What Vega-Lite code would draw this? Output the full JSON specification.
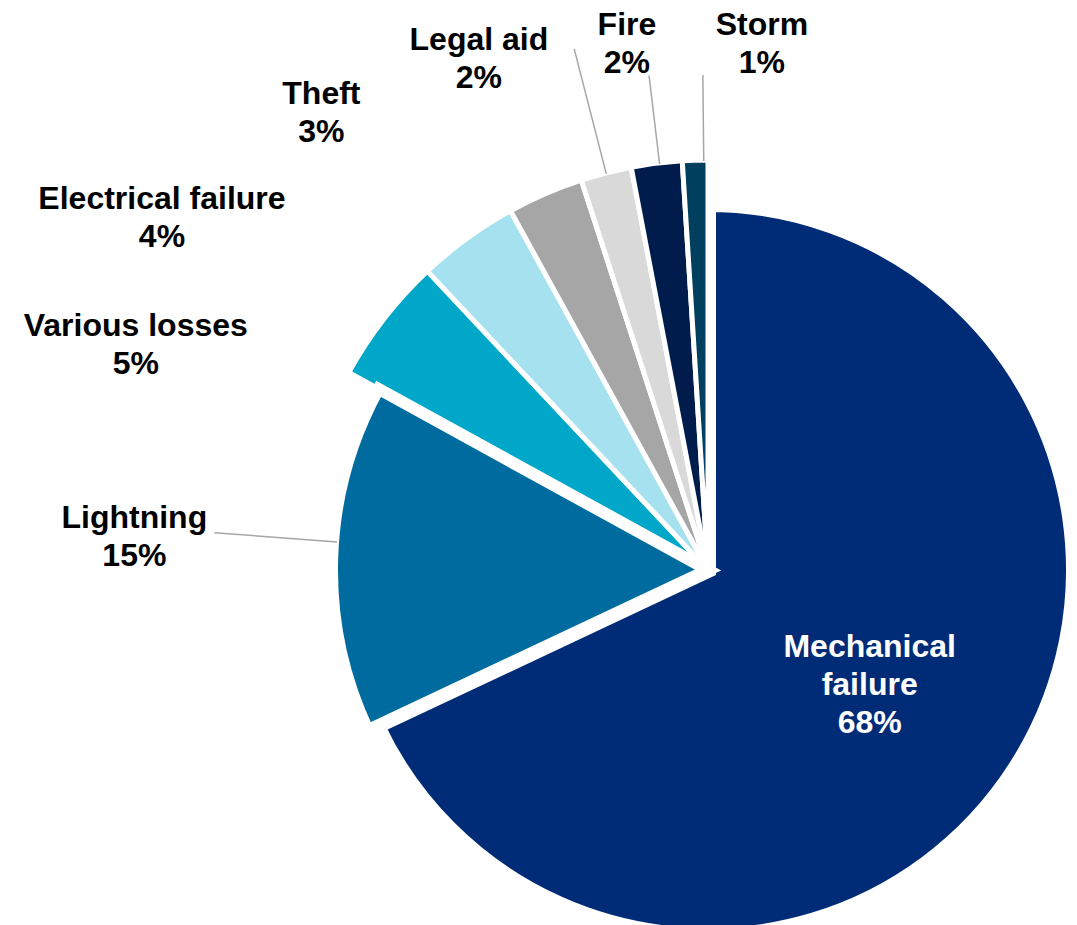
{
  "$schema": "https://vega.github.io/schema/vega-lite/v6.json",
  "width": 738,
  "height": 710,
  "autosize": {"type": "none"},
  "padding": {"left": 339, "top": 215, "right": 0, "bottom": 0},
  "background": "white",
  "config": {"view": {"stroke": null}, "text": {"font": "Liberation Sans"}},
  "data": {
    "values": [
      {"cause": "Mechanical failure", "share": 68},
      {"cause": "Lightning", "share": 15},
      {"cause": "Various losses", "share": 5},
      {"cause": "Electrical failure", "share": 4},
      {"cause": "Theft", "share": 3},
      {"cause": "Legal aid", "share": 2},
      {"cause": "Fire", "share": 2},
      {"cause": "Storm", "share": 1}
    ]
  },
  "transform": [
    {"stack": "share", "groupby": [], "as": ["t0", "t1"]},
    {"calculate": "(datum.t0 + datum.t1) / 2", "as": "mid"},
    {"calculate": "[datum.cause, datum.share + '%']", "as": "lines"},
    {"calculate": "split(datum.cause + ' ' + datum.share + '%', ' ')", "as": "words"}
  ],
  "layer": [
    {
      "transform": [{"filter": "datum.cause === 'Mechanical failure'"}],
      "mark": {"type": "arc", "radius": 366, "stroke": "white", "strokeWidth": 16},
      "encoding": {
        "theta": {"field": "t0", "type": "quantitative", "stack": null, "scale": {"domain": [0, 100]}},
        "theta2": {"field": "t1"},
        "color": {
          "field": "cause", "type": "nominal", "legend": null,
          "scale": {
            "domain": ["Mechanical failure", "Lightning", "Various losses", "Electrical failure", "Theft", "Legal aid", "Fire", "Storm"],
            "range": ["#002C77", "#006B9E", "#00A7C8", "#A6E1F0", "#A6A6A6", "#D9D9D9", "#001C4C", "#00405E"]
          }
        }
      }
    },
    {
      "transform": [{"filter": "datum.share < 10"}],
      "mark": {"type": "arc", "radius": 410, "stroke": "white", "strokeWidth": 5},
      "encoding": {
        "theta": {"field": "t0", "type": "quantitative", "stack": null},
        "theta2": {"field": "t1"},
        "color": {"field": "cause", "type": "nominal", "legend": null}
      }
    },
    {
      "transform": [{"filter": "datum.cause === 'Lightning'"}],
      "mark": {"type": "arc", "radius": 376, "stroke": "white", "strokeWidth": 12},
      "encoding": {
        "theta": {"field": "t0", "type": "quantitative", "stack": null},
        "theta2": {"field": "t1"},
        "color": {"field": "cause", "type": "nominal", "legend": null}
      }
    },
    {
      "transform": [{"filter": "datum.cause === 'Storm'"}],
      "mark": {"type": "arc", "filled": false, "stroke": "#A6A6A6", "strokeWidth": 1.5, "radius": 495, "radius2": 409, "thetaOffset": 0.021, "theta2Offset": 0.021},
      "encoding": {
        "theta": {"field": "mid", "type": "quantitative", "stack": null},
        "theta2": {"field": "mid"}
      }
    },
    {
      "transform": [{"filter": "datum.cause === 'Fire'"}],
      "mark": {"type": "arc", "filled": false, "stroke": "#A6A6A6", "strokeWidth": 1.5, "radius": 498, "radius2": 409, "thetaOffset": 0.007, "theta2Offset": 0.007},
      "encoding": {
        "theta": {"field": "mid", "type": "quantitative", "stack": null},
        "theta2": {"field": "mid"}
      }
    },
    {
      "transform": [{"filter": "datum.cause === 'Legal aid'"}],
      "mark": {"type": "arc", "filled": false, "stroke": "#A6A6A6", "strokeWidth": 1.5, "radius": 538, "radius2": 409, "thetaOffset": 0, "theta2Offset": 0},
      "encoding": {
        "theta": {"field": "mid", "type": "quantitative", "stack": null},
        "theta2": {"field": "mid"}
      }
    },
    {
      "transform": [{"filter": "datum.cause === 'Lightning'"}],
      "mark": {"type": "arc", "filled": false, "stroke": "#A6A6A6", "strokeWidth": 1.5, "radius": 495, "radius2": 372, "thetaOffset": 0.044, "theta2Offset": 0.044},
      "encoding": {
        "theta": {"field": "mid", "type": "quantitative", "stack": null},
        "theta2": {"field": "mid"}
      }
    },
    {
      "transform": [{"filter": "datum.cause === 'Mechanical failure'"}],
      "mark": {"type": "text", "radius": 179, "thetaOffset": -0.122, "fontSize": 32, "fontWeight": "bold", "lineHeight": 38, "align": "center", "baseline": "middle", "color": "white"},
      "encoding": {
        "theta": {"field": "mid", "type": "quantitative", "stack": null},
        "text": {"field": "words", "type": "nominal"}
      }
    },
    {
      "transform": [{"filter": "datum.cause === 'Lightning'"}],
      "mark": {"type": "text", "radius": 576, "thetaOffset": 0.059, "fontSize": 32, "fontWeight": "bold", "lineHeight": 38, "align": "center", "baseline": "middle", "color": "black"},
      "encoding": {
        "theta": {"field": "mid", "type": "quantitative", "stack": null},
        "text": {"field": "lines", "type": "nominal"}
      }
    },
    {
      "transform": [{"filter": "datum.cause === 'Various losses'"}],
      "mark": {"type": "text", "radius": 622, "thetaOffset": -0.257, "fontSize": 32, "fontWeight": "bold", "lineHeight": 38, "align": "center", "baseline": "middle", "color": "black"},
      "encoding": {
        "theta": {"field": "mid", "type": "quantitative", "stack": null},
        "text": {"field": "lines", "type": "nominal"}
      }
    },
    {
      "transform": [{"filter": "datum.cause === 'Electrical failure'"}],
      "mark": {"type": "text", "radius": 660, "thetaOffset": -0.346, "fontSize": 32, "fontWeight": "bold", "lineHeight": 38, "align": "center", "baseline": "middle", "color": "black"},
      "encoding": {
        "theta": {"field": "mid", "type": "quantitative", "stack": null},
        "text": {"field": "lines", "type": "nominal"}
      }
    },
    {
      "transform": [{"filter": "datum.cause === 'Theft'"}],
      "mark": {"type": "text", "radius": 613, "thetaOffset": -0.274, "fontSize": 32, "fontWeight": "bold", "lineHeight": 38, "align": "center", "baseline": "middle", "color": "black"},
      "encoding": {
        "theta": {"field": "mid", "type": "quantitative", "stack": null},
        "text": {"field": "lines", "type": "nominal"}
      }
    },
    {
      "transform": [{"filter": "datum.cause === 'Legal aid'"}],
      "mark": {"type": "text", "radius": 577, "thetaOffset": -0.157, "fontSize": 32, "fontWeight": "bold", "lineHeight": 38, "align": "center", "baseline": "middle", "color": "black"},
      "encoding": {
        "theta": {"field": "mid", "type": "quantitative", "stack": null},
        "text": {"field": "lines", "type": "nominal"}
      }
    },
    {
      "transform": [{"filter": "datum.cause === 'Fire'"}],
      "mark": {"type": "text", "radius": 551, "thetaOffset": -0.022, "fontSize": 32, "fontWeight": "bold", "lineHeight": 38, "align": "center", "baseline": "middle", "color": "black"},
      "encoding": {
        "theta": {"field": "mid", "type": "quantitative", "stack": null},
        "text": {"field": "lines", "type": "nominal"}
      }
    },
    {
      "transform": [{"filter": "datum.cause === 'Storm'"}],
      "mark": {"type": "text", "radius": 548, "thetaOffset": 0.130, "fontSize": 32, "fontWeight": "bold", "lineHeight": 38, "align": "center", "baseline": "middle", "color": "black"},
      "encoding": {
        "theta": {"field": "mid", "type": "quantitative", "stack": null},
        "text": {"field": "lines", "type": "nominal"}
      }
    }
  ]
}
